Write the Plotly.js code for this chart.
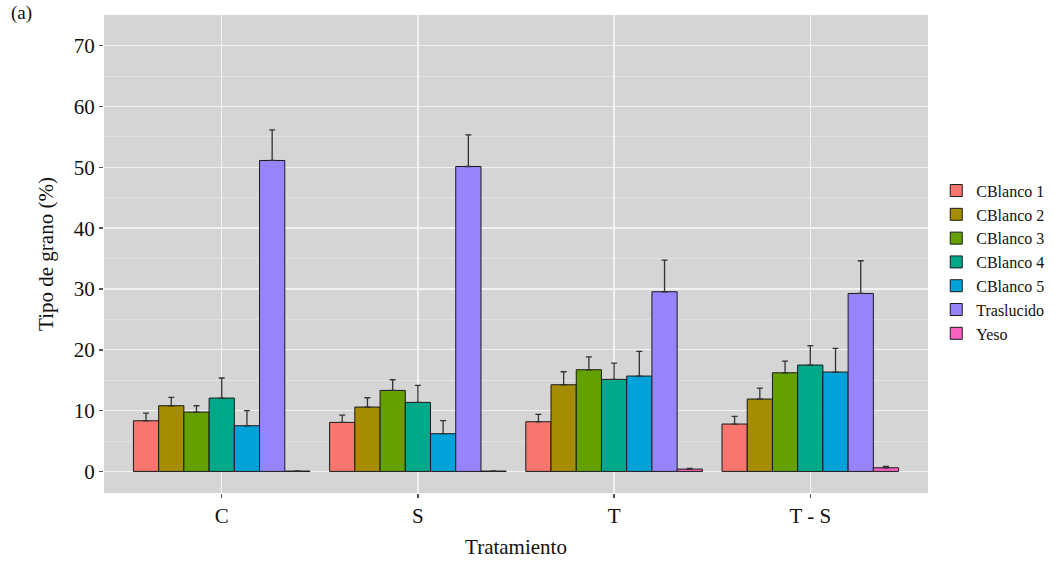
<!DOCTYPE html>
<html>
<head>
<meta charset="utf-8">
<script src="https://cdn.plot.ly/plotly-3.0.1.min.js"></script>
<style>
  html, body { margin: 0; padding: 0; background: #ffffff; }
  #chart { width: 1063px; height: 563px; }
</style>
</head>
<body>
<div id="chart"></div>
<script>
// Treatments on the x axis
const tratamientos = ["C", "S", "T", "T - S"];

// Grain type series: mean percentages per treatment
const cblanco1 = [8.33, 8.06, 8.17, 7.79];
const cblanco2 = [10.80, 10.58, 14.25, 11.90];
const cblanco3 = [9.76, 13.32, 16.72, 16.22];
const cblanco4 = [12.06, 11.35, 15.13, 17.49];
const cblanco5 = [7.51, 6.20, 15.68, 16.34];
const traslucido = [51.13, 50.14, 29.54, 29.26];
const yeso = [0.05, 0.05, 0.38, 0.60];

// Upper error bar lengths
const err1 = [1.27, 1.20, 1.20, 1.25];
const err2 = [1.37, 1.53, 2.14, 1.80];
const err3 = [1.04, 1.75, 2.13, 1.92];
const err4 = [3.30, 2.80, 2.68, 3.18];
const err5 = [2.50, 2.14, 4.05, 3.88];
const errT = [5.04, 5.20, 5.20, 5.38];
const errY = [0.05, 0.05, 0.10, 0.22];

const names = ["CBlanco 1", "CBlanco 2", "CBlanco 3", "CBlanco 4", "CBlanco 5", "Traslucido", "Yeso"];
const values = [cblanco1, cblanco2, cblanco3, cblanco4, cblanco5, traslucido, yeso];
const errors = [err1, err2, err3, err4, err5, errT, errY];
const colors = ["#F8766D", "#A68C00", "#64A000", "#00A88A", "#00A3D9", "#9684FF", "#FB61C0"];

const serif = '"Liberation Serif", "Times New Roman", Times, serif';

const traces = names.map((name, i) => ({
  type: "bar",
  name: name,
  x: tratamientos,
  y: values[i],
  marker: { color: colors[i], line: { color: "#1a1a1a", width: 1 } },
  error_y: {
    type: "data",
    symmetric: false,
    array: errors[i],
    arrayminus: errors[i].map(() => 0),
    color: "#333333",
    thickness: 1.3,
    width: 3
  },
  hoverinfo: "x+y+name"
}));

const layout = {
  width: 1063,
  height: 563,
  margin: { l: 104, r: 135, t: 15, b: 70 },
  paper_bgcolor: "#ffffff",
  plot_bgcolor: "#d5d5d5",
  barmode: "group",
  bargap: 0.1,
  bargroupgap: 0,
  font: { family: serif, color: "#111111", size: 20 },
  xaxis: {
    type: "category",
    range: [-0.6, 3.6],
    showgrid: true,
    gridcolor: "#f2f2f2",
    gridwidth: 1.4,
    ticks: "outside",
    ticklen: 4,
    tickwidth: 1.5,
    tickcolor: "#555555",
    showline: false,
    zeroline: false,
    tickfont: { family: serif, size: 21, color: "#111111" },
    title: { text: "Tratamiento", font: { family: serif, size: 21, color: "#111111" }, standoff: 12 }
  },
  yaxis: {
    range: [-3.55, 75.05],
    tickmode: "array",
    tickvals: [0, 10, 20, 30, 40, 50, 60, 70],
    ticktext: ["0", "10", "20", "30", "40", "50", "60", "70"],
    showgrid: true,
    gridcolor: "#f2f2f2",
    gridwidth: 1.4,
    minor: { tickmode: "array", tickvals: [5, 15, 25, 35, 45, 55, 65, 75], showgrid: true, gridcolor: "#e6e6e6", gridwidth: 0.7, ticks: "" },
    ticks: "outside",
    ticklen: 4,
    tickwidth: 1.5,
    tickcolor: "#555555",
    showline: false,
    zeroline: false,
    tickfont: { family: serif, size: 21, color: "#111111" },
    title: { text: "Tipo de grano (%)", font: { family: serif, size: 21, color: "#111111" }, standoff: 14 }
  },
  legend: {
    x: 1.01,
    xanchor: "left",
    y: 0.483,
    yanchor: "middle",
    font: { family: serif, size: 16, color: "#111111" },
    bgcolor: "rgba(0,0,0,0)",
    traceorder: "normal",
    tracegroupgap: 0
  },
  annotations: [{
    text: "(a)",
    xref: "paper", yref: "paper",
    x: -0.115, y: 1.032,
    xanchor: "left", yanchor: "top",
    showarrow: false,
    font: { family: serif, size: 19, color: "#111111" }
  }]
};

Plotly.newPlot("chart", traces, layout, { displayModeBar: false, staticPlot: true });
</script>
</body>
</html>
